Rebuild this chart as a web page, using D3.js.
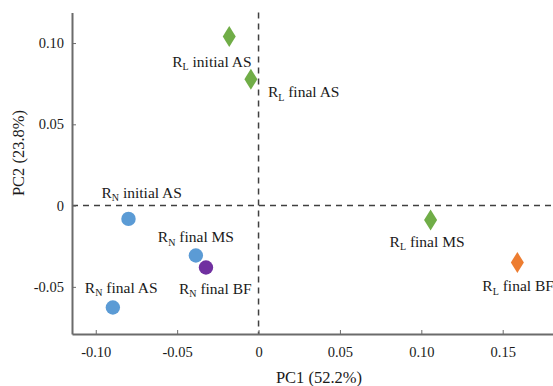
<!DOCTYPE html>
<html>
<head>
<meta charset="utf-8">
<script src="https://cdn.jsdelivr.net/npm/d3@7"></script>
<style>
  html, body { margin: 0; padding: 0; background: #fff; }
  svg { display: block; }
</style>
</head>
<body>
<svg id="chart" width="553" height="386"></svg>
<script>
// ---- data ----
const names    = ["RL initial AS", "RL final AS", "RL final MS", "RL final BF",
                  "RN initial AS", "RN final MS", "RN final BF", "RN final AS"];
const subs     = ["L", "L", "L", "L", "N", "N", "N", "N"];
const labelRest = ["initial AS", "final AS", "final MS", "final BF",
                   "initial AS", "final MS", "final BF", "final AS"];
const pc1      = [-0.018, -0.0047, 0.1057, 0.159, -0.0799, -0.0385, -0.0323, -0.0895];
const pc2      = [0.104, 0.0777, -0.0088, -0.035, -0.0082, -0.0307, -0.0381, -0.0627];
const shapes   = ["diamond", "diamond", "diamond", "diamond", "circle", "circle", "circle", "circle"];
const colors   = ["#70AD47", "#70AD47", "#70AD47", "#ED7D31", "#5B9BD5", "#5B9BD5", "#7030A0", "#5B9BD5"];
const xTicks   = [-0.10, -0.05, 0, 0.05, 0.10, 0.15];
const xTickLabels = ["-0.10", "-0.05", "0", "0.05", "0.10", "0.15"];
const yTicks   = [-0.05, 0, 0.05, 0.10];
const yTickLabels = ["-0.05", "0", "0.05", "0.10"];
const xTitle = "PC1 (52.2%)";
const yTitle = "PC2 (23.8%)";

(function () {
const FONT = "'Liberation Serif', 'Times New Roman', Tinos, 'DejaVu Serif', serif";
// ---- layout ----
const mLeft = 72, mRight = 553, mTop = 12.5, mBottom = 334;
const labelOffsets = [[-57, 30], [17, 18], [-41, 27], [-35, 29],
                      [-27, -21], [-38, -13], [-27, 26], [-28, -15]];

const svg = d3.select("#chart").style("font-family", FONT);
const x = d3.scaleLinear().domain([-0.1146, 0.1809]).range([mLeft, mRight]);
const y = d3.scaleLinear().domain([-0.0790, 0.1188]).range([mBottom, mTop]);

const axisColor = "#6b6b6b";

// zero dashed lines
svg.append("line")
  .attr("x1", x(0)).attr("x2", x(0)).attr("y1", mTop).attr("y2", mBottom)
  .attr("stroke", "#404040").attr("stroke-width", 1.5).attr("stroke-dasharray", "6,5");
svg.append("line")
  .attr("x1", mLeft).attr("x2", mRight).attr("y1", y(0)).attr("y2", y(0))
  .attr("stroke", "#404040").attr("stroke-width", 1.5).attr("stroke-dasharray", "6,5");

// axes
const xAxis = d3.axisBottom(x).tickValues(xTicks)
  .tickFormat((d, i) => xTickLabels[i]).tickSizeInner(-4).tickSizeOuter(0).tickPadding(13);
const gx = svg.append("g").attr("transform", `translate(0,${mBottom})`).call(xAxis)
  .attr("font-family", null).style("font-family", FONT);
gx.select(".domain").attr("stroke", axisColor).attr("stroke-width", 2);
gx.selectAll(".tick line").attr("stroke", axisColor).attr("stroke-width", 1);
gx.selectAll(".tick text").style("font-family", FONT).style("font-size", "14.5px").attr("fill", "#1a1a1a");

const yAxis = d3.axisLeft(y).tickValues(yTicks)
  .tickFormat((d, i) => yTickLabels[i]).tickSizeInner(-4).tickSizeOuter(0).tickPadding(8);
const gy = svg.append("g").attr("transform", `translate(${mLeft},0)`).call(yAxis)
  .attr("font-family", null).style("font-family", FONT);
gy.select(".domain").attr("stroke", axisColor).attr("stroke-width", 2);
gy.selectAll(".tick line").attr("stroke", axisColor).attr("stroke-width", 1);
gy.selectAll(".tick text").style("font-family", FONT).style("font-size", "14.5px").attr("fill", "#1a1a1a");

// axis titles
svg.append("text").attr("x", 319).attr("y", 383).attr("text-anchor", "middle")
  .style("font-family", FONT).style("font-size", "16.5px").attr("fill", "#1a1a1a").text(xTitle);
svg.append("text").attr("transform", "translate(24,153) rotate(-90)").attr("text-anchor", "middle")
  .style("font-family", FONT).style("font-size", "16.5px").attr("fill", "#1a1a1a").text(yTitle);

// points
const idx = d3.range(names.length);
const diamond = (cx, cy) => `M${cx},${cy - 10.5} L${cx + 6.5},${cy} L${cx},${cy + 10.5} L${cx - 6.5},${cy} Z`;
const g = svg.append("g");
idx.forEach(i => {
  const cx = x(pc1[i]), cy = y(pc2[i]);
  if (shapes[i] === "diamond") {
    g.append("path").attr("d", diamond(cx, cy)).attr("fill", colors[i]);
  } else {
    g.append("circle").attr("cx", cx).attr("cy", cy).attr("r", 7.2).attr("fill", colors[i]);
  }
});

// labels
const lg = svg.append("g");
idx.forEach(i => {
  const t = lg.append("text")
    .attr("x", x(pc1[i]) + labelOffsets[i][0])
    .attr("y", y(pc2[i]) + labelOffsets[i][1])
    .style("font-family", FONT).style("font-size", "15.5px").attr("fill", "#1a1a1a");
  t.append("tspan").text("R");
  t.append("tspan").style("font-size", "10px").attr("dy", 3.5).text(subs[i]);
  t.append("tspan").attr("dy", -3.5).text("\u00a0" + labelRest[i]);
});
})();
</script>
</body>
</html>
